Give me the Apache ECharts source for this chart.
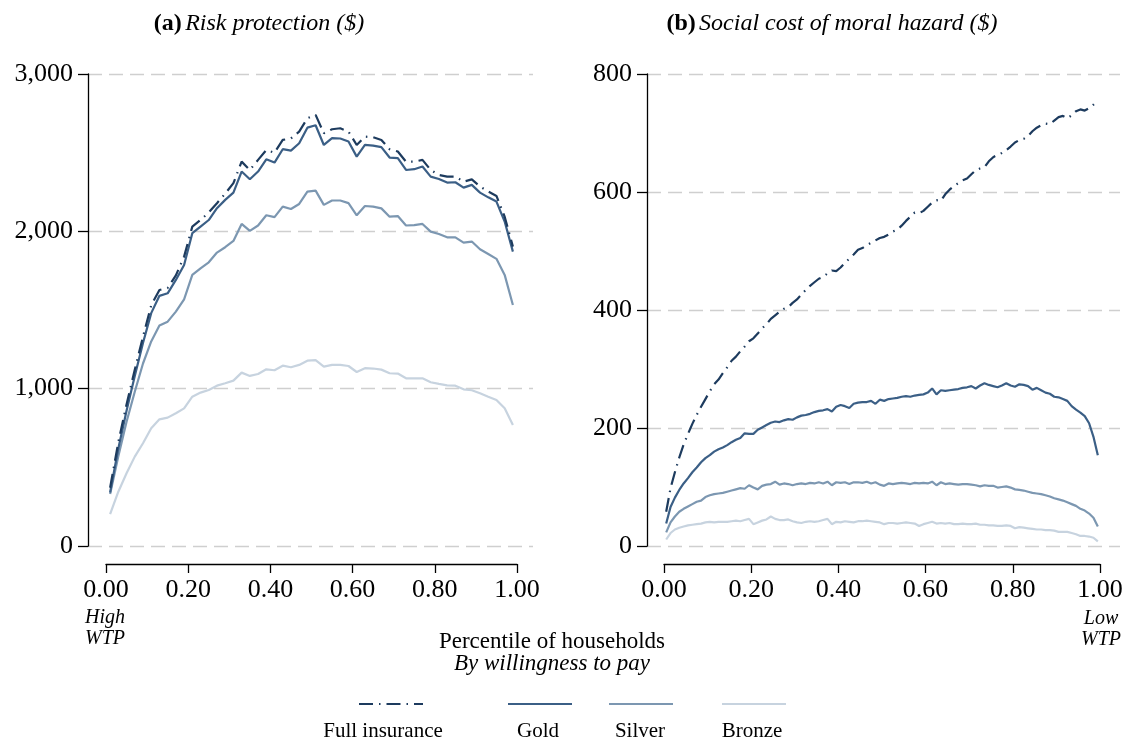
<!DOCTYPE html>
<html>
<head>
<meta charset="utf-8">
<script src="https://cdn.jsdelivr.net/npm/echarts@6/dist/echarts.min.js"></script>
<style>html,body{margin:0;padding:0;background:#fff;}#c{width:1128px;height:742px;}</style>
</head>
<body>
<div id="c"></div>
<script>
// ---------- data ----------
const seriesNames = ['Full insurance', 'Gold', 'Silver', 'Bronze'];
const xTicksLabels = ['0.00', '0.20', '0.40', '0.60', '0.80', '1.00'];
const leftYTicks = ['0', '1,000', '2,000', '3,000'];
const rightYTicks = ['0', '200', '400', '600', '800'];

const leftPct = [0.01,0.03,0.05,0.07,0.09,0.11,0.13,0.15,0.17,0.19,
  0.21,0.23,0.25,0.27,0.29,0.31,0.33,0.35,0.37,0.39,
  0.41,0.43,0.45,0.47,0.49,0.51,0.53,0.55,0.57,0.59,
  0.61,0.63,0.65,0.67,0.69,0.71,0.73,0.75,0.77,0.79,
  0.81,0.83,0.85,0.87,0.89,0.91,0.93,0.95,0.97,0.99];

const leftFull = [370,660,900,1120,1330,1530,1627,1640,1720,1839,
  2030,2072,2120,2179,2240,2306,2443,2390,2454,2517,
  2500,2581,2590,2634,2719,2740,2623,2649,2655,2634,
  2549,2602,2598,2581,2522,2507,2443,2443,2454,2390,
  2358,2348,2348,2316,2330,2285,2253,2225,2093,1903];
const leftGold = [340,620,860,1080,1290,1480,1590,1606,1691,1786,
  1988,2030,2072,2147,2200,2246,2380,2331,2380,2458,
  2437,2522,2513,2560,2659,2674,2549,2592,2590,2571,
  2475,2549,2545,2535,2469,2465,2390,2395,2412,2348,
  2333,2310,2312,2278,2295,2246,2216,2189,2062,1871];
const leftSilver = [330,570,790,980,1160,1300,1401,1426,1490,1568,
  1723,1765,1803,1865,1899,1939,2047,2003,2037,2102,
  2090,2157,2142,2174,2252,2259,2168,2196,2196,2179,
  2102,2161,2157,2146,2093,2097,2037,2040,2047,1998,
  1983,1962,1962,1928,1935,1886,1856,1825,1723,1532];
const leftBronze = [203,345,462,568,653,748,805,816,844,875,
  949,975,992,1019,1034,1051,1102,1081,1093,1123,
  1117,1146,1136,1151,1178,1182,1140,1151,1151,1144,
  1106,1130,1128,1121,1098,1096,1066,1066,1066,1041,
  1030,1021,1019,996,990,971,949,928,875,769];

const rightPct = [0.005,0.015,0.025,0.035,0.045,0.055,0.065,0.075,0.085,0.095,
  0.105,0.115,0.125,0.135,0.145,0.155,0.165,0.175,0.185,0.195,
  0.205,0.215,0.225,0.235,0.245,0.255,0.265,0.275,0.285,0.295,
  0.305,0.315,0.325,0.335,0.345,0.355,0.365,0.375,0.385,0.395,
  0.405,0.415,0.425,0.435,0.445,0.455,0.465,0.475,0.485,0.495,
  0.505,0.515,0.525,0.535,0.545,0.555,0.565,0.575,0.585,0.595,
  0.605,0.615,0.625,0.635,0.645,0.655,0.665,0.675,0.685,0.695,
  0.705,0.715,0.725,0.735,0.745,0.755,0.765,0.775,0.785,0.795,
  0.805,0.815,0.825,0.835,0.845,0.855,0.865,0.875,0.885,0.895,
  0.905,0.915,0.925,0.935,0.945,0.955,0.965,0.975,0.985,0.995];

const rightFull = [58,98,125,150,172,190,207,222,236,249,
  262,274,282,293,303,314,321,330,338,347,
  352,360,369,376,385,391,397,402,405,412,
  418,426,434,441,447,453,456,462,467,466,
  472,480,487,494,502,505,510,514,518,522,
  524,528,533,536,543,551,558,565,564,568,
  575,582,586,585,596,604,610,615,620,623,
  630,637,640,642,652,659,663,666,671,677,
  684,688,690,695,703,709,713,716,715,721,
  727,729,725,730,737,740,738,742,748,755];
const rightGold = [38,66,82,95,106,115,125,133,142,149,
  154,160,164,167,171,176,180,183,191,190,
  190,197,201,205,209,211,210,213,215,214,
  218,221,222,224,227,229,230,232,228,236,
  239,237,234,241,243,244,244,246,241,248,
  246,249,250,251,253,254,253,255,256,257,
  260,267,257,264,263,264,265,266,268,269,
  271,267,272,276,273,271,269,272,276,272,
  270,274,273,271,265,268,264,260,258,253,
  252,249,246,237,231,226,220,208,185,154];
const rightSilver = [23,40,50,58,63,67,71,75,77,83,
  86,88,89,90,92,94,96,98,97,103,
  99,96,102,104,105,109,104,106,105,103,
  105,106,105,107,106,108,106,109,103,108,
  107,108,105,108,108,107,109,106,108,104,
  102,106,105,106,107,106,105,107,106,107,
  106,109,103,108,105,106,105,104,105,105,
  104,103,101,103,102,102,99,100,101,99,
  96,95,94,92,90,89,88,86,84,81,
  79,77,74,71,68,63,60,55,48,33];
const rightBronze = [11,22,28,31,33,35,36,37,38,40,
  41,40,41,41,41,42,43,42,44,46,
  37,40,43,45,50,46,44,44,45,42,
  40,39,41,42,41,42,44,46,37,41,
  40,42,41,40,42,42,43,42,41,40,
  37,39,39,38,39,40,39,38,34,37,
  39,41,38,39,38,39,37,37,38,37,
  37,38,36,36,35,35,34,34,35,34,
  30,32,31,30,29,28,28,27,27,26,
  24,24,24,22,20,17,17,16,14,8];

// ---------- styles ----------
const FONT = '"Liberation Serif", "Times New Roman", serif';
const colors = {'Full insurance': '#1d3b5e', 'Gold': '#3b5f86', 'Silver': '#7c97b1', 'Bronze': '#c7d3df'};
const dashDot = [14, 6, 1.5, 6];

function zip(xs, ys) { return xs.map((x, i) => [x, ys[i]]); }

function mkSeries(name, xs, ys, xi, yi, z) {
  return {
    type: 'line', name: name, xAxisIndex: xi, yAxisIndex: yi,
    data: zip(xs, ys), symbol: 'none', smooth: false, z: z,
    lineStyle: {color: colors[name], width: 2.2, type: name === 'Full insurance' ? dashDot : 'solid', cap: 'butt'},
    itemStyle: {color: colors[name]},
    emphasis: {disabled: true}
  };
}

// layout constants (pixels)
const L = {x0: 106, x1: 517, gl: 88, gr: 533};
const R = {x0: 664, x1: 1100, gl: 647, gr: 1120};
const TOP = 74, BOT = 546;

function ext(P) {
  const w = P.x1 - P.x0;
  return {min: (P.gl - P.x0) / w, max: (P.gr - P.x0) / w};
}
const le = ext(L), re = ext(R);

const yAxisBase = {
  type: 'value', min: 0,
  axisLine: {show: true, onZero: false, lineStyle: {color: '#000', width: 1.3}},
  axisTick: {show: true, length: 10, lineStyle: {color: '#000', width: 1.3}},
  axisLabel: {fontFamily: FONT, fontSize: 26, color: '#000', margin: 15},
  splitLine: {show: true, lineStyle: {color: '#cfcfcf', width: 1.3, type: [14, 7]}}
};

const xAxisVisible = (gi) => ({
  type: 'value', gridIndex: gi, min: 0, max: 1, interval: 0.2, offset: 18,
  axisLine: {show: true, onZero: false, lineStyle: {color: '#000', width: 1.3}},
  axisTick: {show: true, length: 9, lineStyle: {color: '#000', width: 1.3}},
  axisLabel: {fontFamily: FONT, fontSize: 26, color: '#000', margin: 13,
    formatter: v => xTicksLabels[Math.round(v / 0.2)]},
  splitLine: {show: false}
});

const option = {
  animation: false,
  backgroundColor: '#fff',
  grid: [
    {left: L.gl, width: L.gr - L.gl, top: TOP, height: BOT - TOP},
    {left: L.x0, width: L.x1 - L.x0, top: TOP, height: BOT - TOP},
    {left: R.gl, width: R.gr - R.gl, top: TOP, height: BOT - TOP},
    {left: R.x0, width: R.x1 - R.x0, top: TOP, height: BOT - TOP}
  ],
  xAxis: [
    {type: 'value', gridIndex: 0, min: le.min, max: le.max, show: false},
    xAxisVisible(1),
    {type: 'value', gridIndex: 2, min: re.min, max: re.max, show: false},
    xAxisVisible(3)
  ],
  yAxis: [
    Object.assign({}, yAxisBase, {gridIndex: 0, max: 3000, interval: 1000,
      axisLabel: Object.assign({}, yAxisBase.axisLabel, {formatter: v => leftYTicks[Math.round(v / 1000)]})}),
    {type: 'value', gridIndex: 1, min: 0, max: 1, show: false},
    Object.assign({}, yAxisBase, {gridIndex: 2, max: 800, interval: 200,
      axisLabel: Object.assign({}, yAxisBase.axisLabel, {formatter: v => rightYTicks[Math.round(v / 200)]})}),
    {type: 'value', gridIndex: 3, min: 0, max: 1, show: false}
  ],
  legend: [
    {name: 'Full insurance', left: 358},
    {name: 'Gold', left: 507},
    {name: 'Silver', left: 608},
    {name: 'Bronze', left: 721}
  ].map(o => ({
    data: [o.name], left: o.left, top: 698, orient: 'horizontal',
    itemWidth: 64, itemHeight: 12, itemGap: 0, padding: 0,
    selectedMode: false, formatter: () => '',
    itemStyle: {opacity: 0, borderWidth: 0},
    textStyle: {fontSize: 2, padding: 0}
  })),
  series: [
    mkSeries('Bronze', leftPct, leftBronze, 0, 0, 2),
    mkSeries('Silver', leftPct, leftSilver, 0, 0, 3),
    mkSeries('Gold', leftPct, leftGold, 0, 0, 4),
    mkSeries('Full insurance', leftPct, leftFull, 0, 0, 5),
    mkSeries('Bronze', rightPct, rightBronze, 2, 2, 2),
    mkSeries('Silver', rightPct, rightSilver, 2, 2, 3),
    mkSeries('Gold', rightPct, rightGold, 2, 2, 4),
    mkSeries('Full insurance', rightPct, rightFull, 2, 2, 5)
  ],
  graphic: [
    {type: 'text', x: 259, y: 24, style: {
      text: '{b|(a)} {i|Risk protection ($)}', align: 'center', verticalAlign: 'middle',
      rich: {b: {fontFamily: FONT, fontWeight: 'bold', fontSize: 24, fill: '#000'},
             i: {fontFamily: FONT, fontStyle: 'italic', fontSize: 24, fill: '#000'}}}},
    {type: 'text', x: 832, y: 24, style: {
      text: '{b|(b)} {i|Social cost of moral hazard ($)}', align: 'center', verticalAlign: 'middle',
      rich: {b: {fontFamily: FONT, fontWeight: 'bold', fontSize: 24, fill: '#000'},
             i: {fontFamily: FONT, fontStyle: 'italic', fontSize: 24, fill: '#000'}}}},
    {type: 'text', x: 552, y: 642, style: {text: 'Percentile of households', align: 'center', verticalAlign: 'middle',
      font: '23px ' + FONT, fill: '#000'}},
    {type: 'text', x: 552, y: 664, style: {text: 'By willingness to pay', align: 'center', verticalAlign: 'middle',
      font: 'italic 23px ' + FONT, fill: '#000'}},
    {type: 'text', x: 105, y: 618, style: {text: 'High', align: 'center', verticalAlign: 'middle', font: 'italic 20px ' + FONT, fill: '#000'}},
    {type: 'text', x: 105, y: 639, style: {text: 'WTP', align: 'center', verticalAlign: 'middle', font: 'italic 20px ' + FONT, fill: '#000'}},
    {type: 'text', x: 1101, y: 619, style: {text: 'Low', align: 'center', verticalAlign: 'middle', font: 'italic 20px ' + FONT, fill: '#000'}},
    {type: 'text', x: 1101, y: 640, style: {text: 'WTP', align: 'center', verticalAlign: 'middle', font: 'italic 20px ' + FONT, fill: '#000'}},
    {type: 'text', x: 383, y: 731, style: {text: seriesNames[0], align: 'center', verticalAlign: 'middle', font: '21px ' + FONT, fill: '#000'}},
    {type: 'text', x: 538, y: 731, style: {text: seriesNames[1], align: 'center', verticalAlign: 'middle', font: '21px ' + FONT, fill: '#000'}},
    {type: 'text', x: 640, y: 731, style: {text: seriesNames[2], align: 'center', verticalAlign: 'middle', font: '21px ' + FONT, fill: '#000'}},
    {type: 'text', x: 752, y: 731, style: {text: seriesNames[3], align: 'center', verticalAlign: 'middle', font: '21px ' + FONT, fill: '#000'}}
  ]
};

const chart = echarts.init(document.getElementById('c'), null, {renderer: 'canvas'});
chart.setOption(option);
</script>
</body>
</html>
